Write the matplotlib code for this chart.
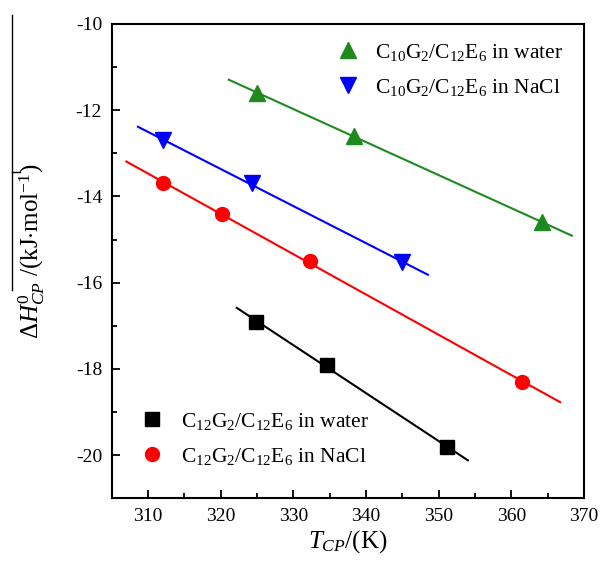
import numpy as np
import matplotlib
matplotlib.use("Agg")
import matplotlib.pyplot as plt
from matplotlib.lines import Line2D
from matplotlib.ticker import MultipleLocator

plt.rcParams['font.family'] = ['Liberation Serif', 'DejaVu Serif']
plt.rcParams['mathtext.fontset'] = 'custom'
plt.rcParams['mathtext.rm'] = 'Liberation Serif'
plt.rcParams['mathtext.it'] = 'Liberation Serif:italic'
plt.rcParams['mathtext.bf'] = 'Liberation Serif:bold'
plt.rcParams['axes.unicode_minus'] = False

# Data
green_x = [325.0, 338.3, 364.2]
green_y = [-11.6, -12.6, -14.6]
blue_x = [312.0, 324.3, 345.0]
blue_y = [-12.7, -13.7, -15.53]
red_x = [312.0, 320.1, 332.3, 361.4]
red_y = [-13.7, -14.4, -15.51, -18.3]
black_x = [324.9, 334.6, 351.1]
black_y = [-16.92, -17.91, -19.82]

# fit line x-ranges
green_fit = [321.1, 368.3]
blue_fit = [308.6, 348.5]
red_fit = [307.0, 366.7]
black_fit = [322.2, 354.0]

labels = [r'$\mathrm{C_{10}G_2/C_{12}E_6}$ in water',
          r'$\mathrm{C_{10}G_2/C_{12}E_6}$ in NaCl',
          r'$\mathrm{C_{12}G_2/C_{12}E_6}$ in water',
          r'$\mathrm{C_{12}G_2/C_{12}E_6}$ in NaCl']

fig = plt.figure(figsize=(6.01, 5.70), dpi=100)
ax = fig.add_axes([0.186, 0.126, 0.786, 0.832])

series = [
    (green_x, green_y, green_fit, '#1e8a1e', '^', 11, labels[0]),
    (blue_x, blue_y, blue_fit, '#0000ff', 'v', 11, labels[1]),
    (black_x, black_y, black_fit, '#000000', 's', 10, labels[2]),
    (red_x, red_y, red_fit, '#ff0000', 'o', 10, labels[3]),
]
handles = []
for xs, ys, fr, c, m, ms, lab in series:
    p = np.polyfit(xs, ys, 1)
    fx = np.array(fr)
    ax.plot(fx, np.polyval(p, fx), color=c, lw=1.5)
    h, = ax.plot(xs, ys, linestyle='none', marker=m, color=c, ms=ms, label=lab)
    handles.append(h)

ax.set_xlim(305, 370)
ax.set_ylim(-21, -10)
ax.xaxis.set_major_locator(MultipleLocator(10))
ax.xaxis.set_minor_locator(MultipleLocator(5))
ax.yaxis.set_major_locator(MultipleLocator(2))
ax.yaxis.set_minor_locator(MultipleLocator(1))
ax.tick_params(which='both', direction='in', top=False, right=False, labelsize=14, width=1.3)
ax.tick_params(which='major', length=6, pad=7)
ax.tick_params(which='minor', length=3.5)
for s in ax.spines.values():
    s.set_linewidth(1.5)

fs = 15.5
leg1 = ax.legend(handles=handles[:2], loc='upper left', frameon=False, fontsize=fs,
                 handletextpad=0.5, borderpad=0, labelspacing=0.64, handlelength=1.5,
                 bbox_to_anchor=(321/601, 1-31/570), bbox_transform=fig.transFigure)
ax.add_artist(leg1)
ax.legend(handles=handles[2:], loc='upper left', frameon=False, fontsize=fs,
          handletextpad=0.6, borderpad=0, labelspacing=0.64, handlelength=1.5,
          bbox_to_anchor=(125/601, 1-400/570), bbox_transform=fig.transFigure)

ax.set_xlabel(r'$T_{CP}$/(K)', fontsize=18, labelpad=2)
ax.set_ylabel(r'$\Delta H^{0}_{CP}$ /(kJ$\cdot$mol$^{-1}$)', fontsize=18)
ax.yaxis.set_label_coords(-0.138, 0.52)

# overline artifact on the y label
fig.add_artist(Line2D([12/601, 12/601], [1-15/570, 1-290/570], color='k', lw=1.0))
fig.add_artist(Line2D([12/601, 20/601], [1-172/570, 1-172/570], color='k', lw=1.0))

fig.savefig('out.png', dpi=100)
